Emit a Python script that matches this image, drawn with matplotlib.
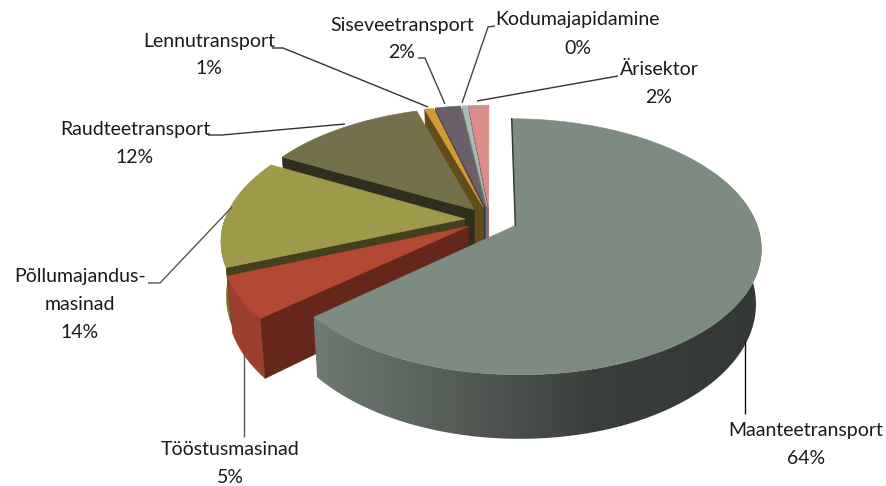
import numpy as np
import matplotlib
matplotlib.use("Agg")
import matplotlib.pyplot as plt
from matplotlib.colors import LinearSegmentedColormap
from matplotlib.patches import Polygon

# --- data ---
categories = ["Maanteetransport", "Tööstusmasinad", "Põllumajandus-\nmasinad", "Raudteetransport",
              "Lennutransport", "Siseveetransport", "Kodumajapidamine", "Ärisektor"]
shares = [63.6, 5.3, 14.0, 12.4, 0.7, 2.0, 0.4, 1.6]
pct_labels = ["64%", "5%", "14%", "12%", "1%", "2%", "0%", "2%"]

# --- style ---
top_colors = ["#7d8b80", "#b34935", "#9f9a4a", "#74704c", "#d39c33", "#6a5f69", "#a9bdb9", "#d98e89"]
wall_colors = ["#3a3f3c", "#65261c", "#44401d", "#302e20", "#624c1a", "#3c3844", "#6f7f7c", "#8a5a57"]
outer_colors = [None, "#9c3f2e", "#77722f", "#55523a", "#8a6a20", "#4a4450", "#7d8b88", "#a06a66"]
explode = [0.115, 0.105, 0.105, 0.105, 0.105, 0.105, 0.105, 0.105]
rim_limit = [0.45, 0, 0, 0, 0, 0, 0, 0]
label_pos = [(806, 430), (230, 449), (80, 276), (135, 129), (209, 41), (402, 25), (578, 20), (659, 69)]
label_gap = 28
leaders = [
    [(745, 340), (745, 414)],
    [(244, 353), (244, 437)],
    [(148, 283), (160, 283), (232, 207)],
    [(208, 135), (222, 135), (345, 124)],
    [(272, 48), (283, 48), (428, 107)],
    [(418, 58), (425, 58), (445, 104)],
    [(495, 26), (488, 27), (462, 103)],
    [(618, 76), (477, 101)],
]
leader_colors = ["#111111", "#555555", "#555555", "#333333", "#333333", "#444444", "#444444", "#333333"]

# --- projection of the pie disc onto the page ---
CX, CY, RX, RY = 490, 219.6, 240, 122.5
PERSP, DEPTH, BOTTOM_X = 0.165, 53, 0.98


def project(u, v, lower=False):
    u, v = np.asarray(u, float), np.asarray(v, float)
    s = 1 / (1 - PERSP * v)
    x = CX + RX * u * s * (BOTTOM_X if lower else 1)
    y = CY + RY * v * s + (DEPTH * s if lower else 0)
    return x, y


plt.rcParams["font.family"] = ["Lato", "DejaVu Sans"]
fig = plt.figure(figsize=(8.87, 4.86), dpi=100)
ax = fig.add_axes([0, 0, 1, 1])
ax.axis("off")

angles = np.radians(360 * np.cumsum([0] + shares) / sum(shares))
rim_cmap = LinearSegmentedColormap.from_list(
    "rim", [(0.0, "#6f7a73"), (0.30, "#565e58"), (0.62, "#3a3f3c"), (1.0, "#333836")])


def wall(xa, ya, xb, yb, color, z):
    ax.fill([*xa, *xb[::-1]], [*ya, *yb[::-1]], facecolor=color, edgecolor=color, lw=0.4, zorder=z)


# back slices first, the large front slice last
order = [7, 6, 5, 4, 3, 2, 1, 0]
for z, i in enumerate(order):
    a0, a1 = angles[i], angles[i + 1]
    mid = (a0 + a1) / 2
    u0, v0 = explode[i] * np.sin(mid), -explode[i] * np.cos(mid)
    th = np.linspace(a0, a1, 160)
    u, v = u0 + np.sin(th), v0 - np.cos(th)
    base = z * 10

    # outer rim, only the part that faces the viewer
    front = np.cos(th) < rim_limit[i]
    if front.any():
        xt, yt = project(u[front], v[front])
        xb, yb = project(u[front], v[front], lower=True)
        if outer_colors[i] is None:
            verts = np.column_stack([np.r_[xt, xb[::-1]], np.r_[yt, yb[::-1]]])
            im = ax.imshow(np.linspace(0, 1, 256)[None, :], cmap=rim_cmap, aspect="auto",
                           extent=(verts[:, 0].min(), verts[:, 0].max(), verts[:, 1].max(), verts[:, 1].min()),
                           zorder=base + 1)
            im.set_clip_path(Polygon(verts, closed=True, transform=ax.transData))
        else:
            wall(xt, yt, xb, yb, outer_colors[i], base + 1)

    # radial walls that face the viewer
    for a, visible in ((a0, -np.sin(a0) > 1e-6), (a1, np.sin(a1) > 1e-6)):
        if visible:
            ue, ve = np.array([u0, u0 + np.sin(a)]), np.array([v0, v0 - np.cos(a)])
            xt, yt = project(ue, ve)
            xb, yb = project(ue, ve, lower=True)
            wall(xt, yt, xb, yb, wall_colors[i], base + 2)

    # top surface
    xs, ys = project(np.r_[u0, u], np.r_[v0, v])
    ax.fill(xs, ys, facecolor=top_colors[i], edgecolor=top_colors[i], lw=0.4, zorder=base + 3)
    if i == 0:
        xe, ye = project(np.array([u0, u0 + np.sin(a0)]), np.array([v0, v0 - np.cos(a0)]))
        ax.plot(xe, ye, color="#2f3533", lw=1.0, zorder=base + 4)

# leader lines and labels
for pts, col in zip(leaders, leader_colors):
    ax.plot([p[0] for p in pts], [p[1] for p in pts], color=col, lw=1.0, zorder=200,
            solid_capstyle="butt")

for name, pct, (x, y) in zip(categories, pct_labels, label_pos):
    lines = name.split("\n") + [pct]
    for n, line in enumerate(lines):
        ax.text(x, y + n * label_gap, line, ha="center", va="center", fontsize=14, color="#1a1a1a", zorder=210)

ax.set_xlim(0, 887)
ax.set_ylim(486, 0)
fig.savefig("out.png", dpi=100)
